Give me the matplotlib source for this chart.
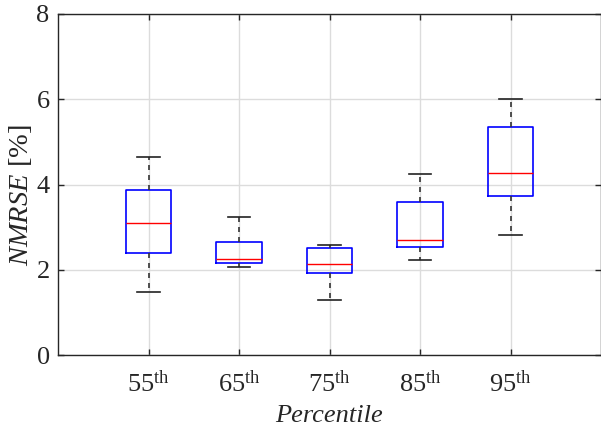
import matplotlib
matplotlib.use("Agg")
import matplotlib.pyplot as plt

plt.rcParams['font.family'] = ['Liberation Serif', 'DejaVu Serif']
plt.rcParams['mathtext.fontset'] = 'custom'
plt.rcParams['mathtext.rm'] = 'Liberation Serif'
plt.rcParams['mathtext.it'] = 'Liberation Serif:italic'

categories = ['55', '65', '75', '85', '95']
whisker_low = [1.48, 2.07, 1.28, 2.24, 2.81]
q1 = [2.39, 2.16, 1.92, 2.54, 3.72]
median = [3.10, 2.26, 2.13, 2.69, 4.26]
q3 = [3.86, 2.65, 2.50, 3.59, 5.36]
whisker_high = [4.64, 3.23, 2.57, 4.25, 6.00]
yticks = [0, 2, 4, 6, 8]

stats = []
for i, c in enumerate(categories):
    stats.append(dict(label=c, whislo=whisker_low[i], q1=q1[i], med=median[i],
                      q3=q3[i], whishi=whisker_high[i], fliers=[]))

fig = plt.figure(figsize=(6.01, 4.29), dpi=100)
ax = fig.add_axes([58/601, 74/429, 543/601, 341/429])

positions = list(range(1, len(categories) + 1))
ax.bxp(stats, positions=positions, widths=0.5, showfliers=False,
       boxprops=dict(color='#0000ff', linewidth=1.2),
       medianprops=dict(color='#ff0000', linewidth=1.0),
       whiskerprops=dict(color='#333333', linestyle=(0, (3, 3)), linewidth=1.2),
       capprops=dict(color='#222222', linewidth=1.2),
       capwidths=0.25, zorder=3)

ax.set_xlim(0, 6)
ax.set_ylim(0, 8)
ax.set_yticks(yticks)
ax.set_yticklabels([str(v) for v in yticks])
ax.set_xticks(positions)
ax.set_xticklabels([c + r'$^{\mathrm{th}}$' for c in categories])
ax.grid(True, color='#dcdcdc', linewidth=1.0, zorder=0)
ax.set_axisbelow(True)
for s in ax.spines.values():
    s.set_color('#262626')
    s.set_linewidth(1.0)
ax.tick_params(direction='in', length=4, width=1.0, colors='#262626',
               top=True, right=True, labelsize=19)
ax.tick_params(axis='x', pad=11)
ax.tick_params(axis='y', pad=6)
for lab in ax.get_xticklabels() + ax.get_yticklabels():
    lab.set_color('#262626')

ax.set_ylabel(r'$\mathit{NMRSE}$ [%]', fontsize=20.5, color='#262626')
ax.yaxis.set_label_coords(-0.045, 0.47)
ax.set_xlabel('Percentile', fontsize=19, style='italic', color='#262626', labelpad=6)

fig.savefig('out.png', dpi=100)
